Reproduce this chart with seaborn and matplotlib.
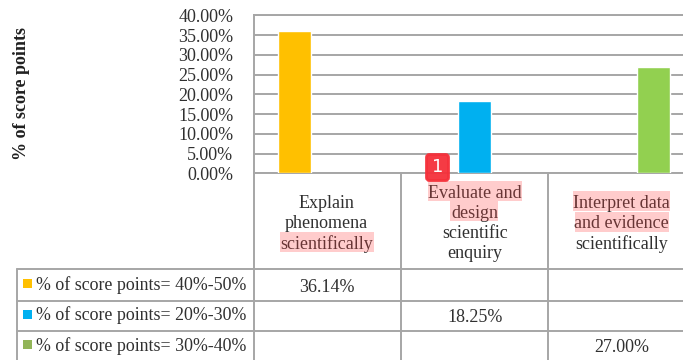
import pandas as pd
import matplotlib.pyplot as plt
import seaborn as sns
from matplotlib.patches import Rectangle, FancyBboxPatch

categories = ['Explain phenomena scientifically', 'Evaluate and design scientific enquiry',
              'Interpret data and evidence scientifically']
values = [36.14, 18.25, 27.00]
series = ['% of score points= 40%-50%', '% of score points= 20%-30%', '% of score points= 30%-40%']
colors = ['#ffc000', '#00b0f0', '#92d050']
swatch_colors = ['#ffc000', '#00b0f0', '#92b558']
yticks = [0, 5, 10, 15, 20, 25, 30, 35, 40]
cell_lines = [['Explain', 'phenomena', 'scientifically'],
              ['Evaluate and', 'design', 'scientific', 'enquiry'],
              ['Interpret data', 'and evidence', 'scientifically']]

sns.set_theme(style='white')
plt.rcParams['font.family'] = ['Liberation Serif', 'DejaVu Serif']
grey = '#a6a6a6'
ink = '#303030'

fig = plt.figure(figsize=(6.83, 3.6), dpi=100)
ax = fig.add_axes([254 / 683, (360 - 173.3) / 360, (683 - 254) / 683, 158 / 360])

df = pd.DataFrame({'category': categories, 'value': values})
sns.barplot(data=df, x='category', y='value', hue='category', palette=colors,
            width=0.183, legend=False, saturation=1, ax=ax, zorder=3)
ax.set_xlim(-0.225, 2.162)
ax.set_ylim(0, 40)
ax.set_yticks(yticks)
ax.set_yticklabels(['%.2f%%' % t for t in yticks], fontsize=13, color=ink)
ax.tick_params(axis='y', length=0, pad=15)
ax.set_xticks([])
ax.set_xlabel('')
ax.set_ylabel('')
ax.grid(axis='y', color=grey, lw=1.4, zorder=0)
ax.set_axisbelow(True)
for name, sp in ax.spines.items():
    sp.set_visible(name in ('left', 'bottom', 'top'))
    sp.set_color(grey)
    sp.set_linewidth(1.4)

# overlay in pixels for the data table under the chart
ov = fig.add_axes([0, 0, 1, 1], zorder=5)
ov.set_xlim(0, 683)
ov.set_ylim(360, 0)
ov.axis('off')

fig.text(22 / 683, 1 - 94 / 360, '% of score points', rotation=90, fontsize=13,
         fontweight='bold', color='#202020', ha='center', va='center')

col_x = [253.7, 400.7, 548.3]
row_y = [269.3, 300.7, 331, 361]
for x in col_x:
    ov.plot([x, x], [173.3, 361], color=grey, lw=1.4, clip_on=False)
ov.plot([17, 17], [row_y[0], 361], color=grey, lw=1.4)
for y in row_y:
    ov.plot([17, 683], [y, y], color=grey, lw=1.4)

# header cells, one text per line
cell_cx = [326.7, 475, 621.7]
cell_y = [[203, 224, 244], [193, 213, 234, 254], [203, 223, 244]]
for cx, lines, ys in zip(cell_cx, cell_lines, cell_y):
    for txt, y in zip(lines, ys):
        ov.text(cx, y, txt, ha='center', va='center', fontsize=13, color=ink)

# pink highlights
for x0, y0, x1, y1 in [(280, 232, 374, 252), (428, 181, 522, 201), (450, 201, 498, 221),
                       (573, 191, 670, 211), (575, 212, 669, 232)]:
    ov.add_patch(Rectangle((x0, y0), x1 - x0, y1 - y0, fc='#f44', ec='none', alpha=0.27, zorder=4))

# badge
ov.add_patch(FancyBboxPatch((426.5, 154.5), 22, 26, boxstyle='round,pad=0,rounding_size=3',
                            fc='#f5303a', ec='#f5303a', lw=2, alpha=0.95, zorder=6))
ov.text(437.5, 167, '1', ha='center', va='center', fontsize=13, color='white',
        family='DejaVu Sans', zorder=7)

# data rows
val_x = [326.7, 475, 621.7]
val_y = [287, 317, 348]
label_y = [285, 315.5, 346.5]
swatch_y = [284, 314.5, 345]
for i in range(3):
    ov.add_patch(Rectangle((23, swatch_y[i] - 5), 9, 9, fc=swatch_colors[i], ec='none'))
    ov.text(36, label_y[i], series[i], ha='left', va='center', fontsize=12.9, color=ink)
    ov.text(val_x[i], val_y[i], '%.2f%%' % values[i], ha='center', va='center',
            fontsize=13, color=ink)

fig.savefig('out.png', dpi=100)
